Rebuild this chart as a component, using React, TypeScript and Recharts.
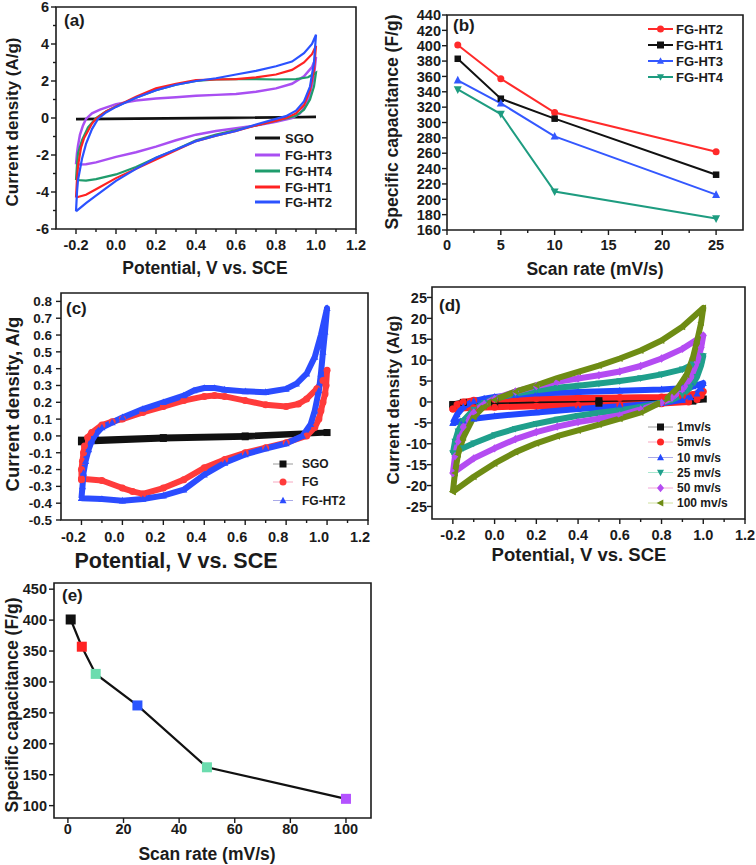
import type { ReactNode } from "react";
import { LineChart, Line, XAxis, YAxis, ReferenceArea } from "recharts";

const FONT = '"Liberation Sans", Arial, Helvetica, sans-serif';
const INK = "#1b1b1b";

type Pt = [number, number];

// ---- (a) CV loops, forward sweep then reverse
const A_SGO: Pt[] = [[-0.2, -0.05], [0.4, 0.0], [1.0, 0.05], [0.4, -0.02], [-0.2, -0.07]];
const A_HT3: Pt[] = [
  [-0.2, -2.5], [-0.195, -1.9], [-0.19, -1.5], [-0.18, -0.9], [-0.165, -0.4], [-0.15, -0.05], [-0.12, 0.25],
  [-0.08, 0.45], [0, 0.75], [0.1, 0.95], [0.2, 1.05], [0.3, 1.12], [0.4, 1.2], [0.5, 1.25], [0.6, 1.3],
  [0.7, 1.42], [0.8, 1.6], [0.88, 1.85], [0.94, 2.25], [0.98, 2.75], [1.0, 3.3],
  [0.99, 2.3], [0.97, 1.3], [0.95, 0.7], [0.92, 0.25], [0.88, 0.0], [0.8, -0.2], [0.7, -0.4], [0.6, -0.55],
  [0.5, -0.7], [0.4, -0.9], [0.3, -1.2], [0.2, -1.55], [0.1, -1.85], [0.0, -2.1], [-0.1, -2.4], [-0.15, -2.5], [-0.2, -2.52],
];
const A_HT4: Pt[] = [
  [-0.2, -3.35], [-0.195, -2.5], [-0.19, -1.9], [-0.17, -1.2], [-0.14, -0.5], [-0.1, 0.0], [-0.05, 0.35],
  [0, 0.62], [0.1, 1.1], [0.2, 1.5], [0.3, 1.8], [0.4, 2.0], [0.5, 2.08], [0.6, 2.1], [0.7, 2.1], [0.8, 2.08],
  [0.9, 2.1], [0.96, 2.2], [1.0, 2.45],
  [0.99, 1.7], [0.97, 1.0], [0.94, 0.45], [0.9, 0.12], [0.86, 0.0], [0.8, -0.15], [0.7, -0.4], [0.6, -0.65],
  [0.5, -0.9], [0.4, -1.2], [0.3, -1.7], [0.2, -2.15], [0.1, -2.65], [0.0, -3.05], [-0.1, -3.3], [-0.15, -3.38], [-0.2, -3.35],
];
const A_HT1: Pt[] = [
  [-0.2, -4.3], [-0.195, -3.3], [-0.19, -2.6], [-0.175, -1.6], [-0.16, -1.1], [-0.12, -0.3], [-0.1, -0.05],
  [-0.05, 0.35], [0, 0.62], [0.1, 1.15], [0.2, 1.6], [0.3, 1.85], [0.4, 2.05], [0.5, 2.08], [0.6, 2.1],
  [0.7, 2.2], [0.8, 2.35], [0.88, 2.6], [0.94, 3.0], [0.98, 3.45], [1.0, 3.9],
  [0.99, 2.6], [0.97, 1.5], [0.94, 0.7], [0.9, 0.25], [0.85, 0.0], [0.8, -0.15], [0.7, -0.4], [0.6, -0.7],
  [0.5, -0.95], [0.4, -1.25], [0.3, -1.75], [0.2, -2.25], [0.1, -2.75], [0.0, -3.25], [-0.1, -3.85], [-0.15, -4.15], [-0.2, -4.3],
];
const A_HT2: Pt[] = [
  [-0.2, -5.05], [-0.195, -4.0], [-0.19, -3.35], [-0.17, -2.2], [-0.15, -1.4], [-0.12, -0.6], [-0.09, -0.05],
  [-0.05, 0.3], [0, 0.6], [0.05, 0.85], [0.1, 1.1], [0.2, 1.5], [0.3, 1.8], [0.4, 2.0], [0.5, 2.15], [0.6, 2.35],
  [0.7, 2.55], [0.8, 2.8], [0.88, 3.05], [0.94, 3.5], [0.98, 4.0], [1.0, 4.5],
  [0.99, 3.0], [0.97, 1.7], [0.94, 0.9], [0.9, 0.4], [0.85, 0.1], [0.8, -0.05], [0.7, -0.35], [0.6, -0.7],
  [0.5, -0.95], [0.4, -1.25], [0.3, -1.7], [0.2, -2.15], [0.1, -2.75], [0.0, -3.4], [-0.1, -4.2], [-0.15, -4.6], [-0.2, -5.05],
];

// ---- (b) capacitance vs scan rate
const B_RATE = [1, 5, 10, 25];
const B_HT2 = [401, 357, 313, 262];
const B_HT1 = [383, 331, 305, 232];
const B_HT3 = [355, 325, 282, 206];
const B_HT4 = [343, 311, 210, 175];

// ---- (c) CV of SGO / FG / FG-HT2
const C_SGO: Pt[] = [[-0.2, -0.025], [0.2, -0.01], [0.6, 0.0], [1.0, 0.02], [0.6, -0.005], [0.2, -0.015], [-0.2, -0.035]];
const C_FG: Pt[] = [
  [-0.2, -0.26], [-0.2, -0.2], [-0.195, -0.15], [-0.19, -0.1], [-0.185, -0.06], [-0.17, -0.01], [-0.15, 0.02],
  [-0.1, 0.065], [-0.05, 0.085], [0.0, 0.1], [0.1, 0.14], [0.2, 0.175], [0.3, 0.21], [0.4, 0.235], [0.45, 0.24],
  [0.5, 0.235], [0.6, 0.21], [0.7, 0.185], [0.8, 0.175], [0.86, 0.19], [0.9, 0.22], [0.95, 0.28], [0.98, 0.33], [1.0, 0.39],
  [0.995, 0.3], [0.99, 0.25], [0.98, 0.2], [0.97, 0.15], [0.96, 0.1], [0.94, 0.05], [0.9, 0.0], [0.8, -0.04],
  [0.7, -0.07], [0.6, -0.1], [0.5, -0.14], [0.4, -0.19], [0.3, -0.26], [0.2, -0.31], [0.1, -0.345], [0.05, -0.33],
  [0.0, -0.31], [-0.1, -0.265], [-0.2, -0.255],
];
const C_HT2: Pt[] = [
  [-0.2, -0.37], [-0.195, -0.3], [-0.19, -0.22], [-0.18, -0.15], [-0.165, -0.08], [-0.15, -0.03], [-0.13, 0.01],
  [-0.1, 0.05], [-0.05, 0.08], [0.0, 0.11], [0.1, 0.16], [0.2, 0.2], [0.3, 0.24], [0.35, 0.27], [0.4, 0.285],
  [0.45, 0.285], [0.5, 0.275], [0.6, 0.265], [0.7, 0.26], [0.8, 0.28], [0.85, 0.31], [0.9, 0.37], [0.94, 0.47],
  [0.97, 0.6], [1.0, 0.76],
  [0.99, 0.62], [0.98, 0.5], [0.97, 0.37], [0.96, 0.27], [0.94, 0.15], [0.92, 0.07], [0.88, 0.0], [0.8, -0.045],
  [0.7, -0.075], [0.6, -0.11], [0.5, -0.16], [0.4, -0.23], [0.3, -0.32], [0.2, -0.355], [0.1, -0.375], [0.0, -0.385],
  [-0.1, -0.375], [-0.2, -0.37],
];

// ---- (d) CV of FG-HT2 at several scan rates
const D_1: Pt[] = [[-0.2, -0.6], [-0.15, -0.1], [0, 0.1], [0.5, 0.3], [1.0, 0.7], [0.95, 0.2], [0.5, -0.3], [0, -0.5], [-0.2, -0.7]];
const D_5: Pt[] = [
  [-0.2, -1.7], [-0.18, -0.6], [-0.15, 0.0], [-0.1, 0.4], [0, 0.6], [0.2, 0.8], [0.4, 0.95], [0.6, 1.05], [0.8, 1.2],
  [0.9, 1.4], [0.95, 1.8], [1.0, 2.5],
  [0.99, 1.5], [0.97, 0.6], [0.93, 0.0], [0.8, -0.4], [0.6, -0.65], [0.4, -0.85], [0.2, -1.05], [0.0, -1.25], [-0.1, -1.4], [-0.2, -1.7],
];
const D_10: Pt[] = [
  [-0.2, -5], [-0.18, -3], [-0.15, -1.2], [-0.1, 0.2], [-0.05, 0.8], [0, 1.2], [0.1, 1.7], [0.2, 2.0], [0.4, 2.4],
  [0.6, 2.7], [0.8, 3.0], [0.9, 3.3], [0.95, 3.7], [1.0, 4.5],
  [0.99, 3.2], [0.97, 2], [0.94, 1.1], [0.9, 0.5], [0.8, -0.3], [0.6, -1.0], [0.4, -1.7], [0.2, -2.5], [0.0, -3.4],
  [-0.1, -4], [-0.15, -4.5], [-0.2, -5],
];
const D_25: Pt[] = [
  [-0.2, -12.3], [-0.19, -9.5], [-0.175, -7], [-0.15, -4.5], [-0.1, -1.8], [-0.05, -0.2], [0, 0.8], [0.1, 2.0],
  [0.2, 2.8], [0.3, 3.4], [0.4, 3.9], [0.5, 4.4], [0.6, 5.0], [0.7, 5.7], [0.8, 6.6], [0.9, 7.8], [0.95, 9], [1.0, 11],
  [0.99, 8.8], [0.97, 6], [0.94, 3.5], [0.9, 1.7], [0.85, 0.5], [0.8, -0.2], [0.7, -1.2], [0.6, -2.0], [0.5, -2.6],
  [0.4, -3.3], [0.3, -4.2], [0.2, -5.2], [0.1, -6.4], [0.0, -7.9], [-0.1, -9.9], [-0.15, -11], [-0.2, -12.3],
];
const D_50: Pt[] = [
  [-0.2, -17], [-0.19, -13], [-0.175, -9.5], [-0.15, -6], [-0.1, -2.5], [-0.05, -0.5], [0, 0.8], [0.1, 2.5],
  [0.2, 3.8], [0.3, 4.8], [0.4, 5.6], [0.5, 6.4], [0.6, 7.3], [0.7, 8.6], [0.8, 10.4], [0.9, 12.7], [1.0, 15.9],
  [0.99, 13], [0.97, 9.5], [0.94, 5.8], [0.9, 3], [0.85, 1.0], [0.8, -0.2], [0.7, -1.8], [0.6, -3.2], [0.5, -4],
  [0.4, -4.8], [0.3, -5.9], [0.2, -7.2], [0.1, -8.9], [0.0, -11.1], [-0.1, -13.5], [-0.2, -17],
];
const D_100: Pt[] = [
  [-0.2, -21.5], [-0.19, -17], [-0.175, -12.5], [-0.15, -8.5], [-0.1, -3.6], [-0.05, -1.0], [0, 0.5], [0.1, 2.5],
  [0.2, 4.0], [0.3, 5.7], [0.4, 7.2], [0.5, 8.7], [0.6, 10.4], [0.7, 12.3], [0.8, 14.7], [0.9, 18], [1.0, 22.5],
  [0.99, 19], [0.97, 14.5], [0.95, 10.5], [0.92, 6.5], [0.88, 3.5], [0.83, 1.0], [0.78, -0.5], [0.7, -2.5],
  [0.6, -4.0], [0.5, -5.4], [0.4, -6.8], [0.3, -8.2], [0.2, -9.9], [0.1, -12], [0.0, -14.7], [-0.1, -17.9], [-0.2, -21.5],
];

// ---- (e) FG-HT2 capacitance vs scan rate
const E_RATE = [1, 5, 10, 25, 50, 100];
const E_CAP = [401, 357, 313, 262, 162, 111];
const E_COLORS = ["#111111", "#ff2222", "#6bdcae", "#2b55ff", "#6bdcae", "#b452ff"];

// ---- ticks
const CV_X_MAJOR = [-0.2, 0, 0.2, 0.4, 0.6, 0.8, 1.0, 1.2];
const CV_X_MINOR = [-0.1, 0.1, 0.3, 0.5, 0.7, 0.9, 1.1];
const A_Y_MAJOR = [-6, -4, -2, 0, 2, 4, 6];
const A_Y_MINOR = [-5, -3, -1, 1, 3, 5];
const B_X_MAJOR = [0, 5, 10, 15, 20, 25];
const B_X_MINOR = [2.5, 7.5, 12.5, 17.5, 22.5];
const B_Y_MAJOR = [160, 180, 200, 220, 240, 260, 280, 300, 320, 340, 360, 380, 400, 420, 440];
const C_Y_MAJOR = [-0.5, -0.4, -0.3, -0.2, -0.1, 0, 0.1, 0.2, 0.3, 0.4, 0.5, 0.6, 0.7, 0.8];
const D_Y_MAJOR = [-25, -20, -15, -10, -5, 0, 5, 10, 15, 20, 25];
const E_X_MAJOR = [0, 20, 40, 60, 80, 100];
const E_Y_MAJOR = [100, 150, 200, 250, 300, 350, 400, 450];

const pts = (a: Pt[]) => a.map(([x, y]) => ({ x, y }));
const pairs = (xs: number[], ys: number[]) => xs.map((x, i) => ({ x, y: ys[i] }));
const f1 = (v: number) => v.toFixed(1);
const f0 = (v: number) => String(Math.round(v));

function Marker({ shape, cx, cy, size, fill }: { shape: string; cx: number; cy: number; size: number; fill: string }) {
  const r = size / 2;
  if (shape === "square") return <rect x={cx - r} y={cy - r} width={size} height={size} fill={fill} />;
  if (shape === "circle") return <circle cx={cx} cy={cy} r={r} fill={fill} />;
  if (shape === "up") return <polygon points={`${cx},${cy - r * 1.1} ${cx + r},${cy + r * 0.8} ${cx - r},${cy + r * 0.8}`} fill={fill} />;
  if (shape === "down") return <polygon points={`${cx},${cy + r * 1.1} ${cx + r},${cy - r * 0.8} ${cx - r},${cy - r * 0.8}`} fill={fill} />;
  if (shape === "diamond") return <polygon points={`${cx},${cy - r * 1.2} ${cx + r},${cy} ${cx},${cy + r * 1.2} ${cx - r},${cy}`} fill={fill} />;
  return <polygon points={`${cx - r * 1.1},${cy} ${cx + r * 0.8},${cy - r} ${cx + r * 0.8},${cy + r}`} fill={fill} />;
}

const dotOf = (shape: string, size: number, fill: string) => (p: any) => (
  <Marker key={`d${p.index}`} shape={shape} cx={p.cx} cy={p.cy} size={size} fill={fill} />
);

const isIn = (arr: number[], v: number) => arr.some((m) => Math.abs(m - v) < 1e-9);

type PanelProps = {
  px: number; py: number; pw: number; ph: number;
  xDomain: [number, number]; yDomain: [number, number];
  xMajor: number[]; xMinor?: number[]; yMajor: number[]; yMinor?: number[];
  xFmt: (v: number) => string; yFmt: (v: number) => string;
  xdx?: number; xdy: number; ygap: number; xfs?: number; yfs?: number;
  children: ReactNode;
};

function Panel(props: PanelProps) {
  const { px, py, pw, ph, xDomain, yDomain, xMajor, yMajor, xFmt, yFmt, xdy, ygap } = props;
  const xMinor = props.xMinor ?? [];
  const yMinor = props.yMinor ?? [];
  const xdx = props.xdx ?? 0;
  const xfs = props.xfs ?? 14.5;
  const yfs = props.yfs ?? 14.5;
  const ML = 50;
  const MT = 10;

  const xTick = (p: any) => {
    const v = p.payload.value;
    const major = isIn(xMajor, v);
    return (
      <g>
        <line x1={p.x} x2={p.x} y1={p.y} y2={p.y + (major ? 5 : 3)} stroke={INK} strokeWidth={1.4} />
        {major && (
          <text x={p.x + xdx} y={p.y + xdy} textAnchor="middle" fontFamily={FONT} fontWeight="bold" fontSize={xfs} fill={INK}>
            {xFmt(v)}
          </text>
        )}
      </g>
    );
  };
  const yTick = (p: any) => {
    const v = p.payload.value;
    const major = isIn(yMajor, v);
    return (
      <g>
        <line x1={p.x} x2={p.x - (major ? 5 : 3)} y1={p.y} y2={p.y} stroke={INK} strokeWidth={1.4} />
        {major && (
          <text x={p.x - ygap} y={p.y} dy="0.36em" textAnchor="end" fontFamily={FONT} fontWeight="bold" fontSize={yfs} fill={INK}>
            {yFmt(v)}
          </text>
        )}
      </g>
    );
  };

  return (
    <div style={{ position: "absolute", left: px - ML, top: py - MT }}>
      <LineChart width={pw + ML + 10} height={ph + MT + 30} margin={{ top: MT, right: 10, bottom: 0, left: 0 }}>
        <XAxis
          dataKey="x" type="number" domain={xDomain} ticks={[...xMajor, ...xMinor]} interval={0}
          tickSize={0} tickMargin={0} axisLine={false} tickLine={false} height={30} allowDataOverflow tick={xTick}
        />
        <YAxis
          dataKey="y" type="number" domain={yDomain} ticks={[...yMajor, ...yMinor]} interval={0}
          tickSize={0} tickMargin={0} axisLine={false} tickLine={false} width={ML} allowDataOverflow tick={yTick}
        />
        <ReferenceArea
          x1={xDomain[0]} x2={xDomain[1]} y1={yDomain[0]} y2={yDomain[1]}
          fill="none" fillOpacity={0} stroke={INK} strokeWidth={1.6} ifOverflow="visible"
        />
        {props.children}
      </LineChart>
    </div>
  );
}

type LegendRow = { label: string; color: string; shape?: string; pale?: string; width?: number };

function LegendBlock({ x1, x2, tx, ys, rows, fs, msize }: { x1: number; x2: number; tx: number; ys: number[]; rows: LegendRow[]; fs: number; msize: number }) {
  return (
    <g>
      {rows.map((r, i) => (
        <g key={r.label}>
          <line x1={x1} x2={x2} y1={ys[i]} y2={ys[i]} stroke={r.pale ?? r.color} strokeWidth={r.width ?? 2.5} />
          {r.shape && <Marker shape={r.shape} cx={(x1 + x2) / 2} cy={ys[i]} size={msize} fill={r.color} />}
          <text x={tx} y={ys[i]} dy="0.36em" fontFamily={FONT} fontWeight="bold" fontSize={fs} fill={INK}>
            {r.label}
          </text>
        </g>
      ))}
    </g>
  );
}

function VTitle({ x, y, fs, children }: { x: number; y: number; fs: number; children: string }) {
  return (
    <text x={x} y={y} transform={`rotate(-90 ${x} ${y})`} textAnchor="middle" dominantBaseline="central"
      fontFamily={FONT} fontWeight="bold" fontSize={fs} fill={INK}>
      {children}
    </text>
  );
}

function HText({ x, y, fs, anchor = "middle", children }: { x: number; y: number; fs: number; anchor?: string; children: string }) {
  return (
    <text x={x} y={y} textAnchor={anchor as any} fontFamily={FONT} fontWeight="bold" fontSize={fs} fill={INK}>
      {children}
    </text>
  );
}

const cvLine = (data: Pt[], color: string, width: number) => (
  <Line data={pts(data)} dataKey="y" type="linear" stroke={color} strokeWidth={width} dot={false} activeDot={false} isAnimationActive={false} />
);

const bandLine = (data: Pt[], color: string, shape: string) => (
  <Line data={pts(data)} dataKey="y" type="linear" stroke={color} strokeWidth={6} strokeLinejoin="round"
    dot={dotOf(shape, 7, color)} activeDot={false} isAnimationActive={false} />
);

export default function App() {
  const A = { SGO: "#111111", HT3: "#a94ff2", HT4: "#1f9c6c", HT1: "#ff2222", HT2: "#2b52ff" };
  const B = { HT2: "#ff2a2a", HT1: "#111111", HT3: "#3458ff", HT4: "#1e9c80" };
  const C = { SGO: "#111111", FG: "#ff3b3b", HT2: "#2b4cff" };
  const D = ["#111111", "#ff2525", "#2248ff", "#1f9f8c", "#b44cf2", "#6e8c14"];
  const DP = ["#9a9a9a", "#f7a8c0", "#a9a9e8", "#a8e8d0", "#f2a8d8", "#cfe0a0"];

  return (
    <div style={{ position: "absolute", left: 0, top: 0, width: 756, height: 865, background: "#fff" }}>
      {/* (a) */}
      <Panel px={56} py={7} pw={300} ph={222} xDomain={[-0.3, 1.2]} yDomain={[-6, 6]}
        xMajor={CV_X_MAJOR} xMinor={CV_X_MINOR} yMajor={A_Y_MAJOR} yMinor={A_Y_MINOR}
        xFmt={f1} yFmt={f0} xdy={21} ygap={7}>
        {cvLine(A_SGO, A.SGO, 2.5)}
        {cvLine(A_HT3, A.HT3, 2.5)}
        {cvLine(A_HT4, A.HT4, 2.2)}
        {cvLine(A_HT1, A.HT1, 2.2)}
        {cvLine(A_HT2, A.HT2, 2.2)}
      </Panel>

      {/* (b) */}
      <Panel px={447} py={15} pw={296} ph={215} xDomain={[0, 27.5]} yDomain={[160, 440]}
        xMajor={B_X_MAJOR} xMinor={B_X_MINOR} yMajor={B_Y_MAJOR}
        xFmt={f0} yFmt={f0} xdy={20} ygap={6}>
        <Line data={pairs(B_RATE, B_HT2)} dataKey="y" stroke={B.HT2} strokeWidth={2} dot={dotOf("circle", 7, B.HT2)} activeDot={false} isAnimationActive={false} />
        <Line data={pairs(B_RATE, B_HT1)} dataKey="y" stroke={B.HT1} strokeWidth={2} dot={dotOf("square", 6.5, B.HT1)} activeDot={false} isAnimationActive={false} />
        <Line data={pairs(B_RATE, B_HT3)} dataKey="y" stroke={B.HT3} strokeWidth={2} dot={dotOf("up", 8, B.HT3)} activeDot={false} isAnimationActive={false} />
        <Line data={pairs(B_RATE, B_HT4)} dataKey="y" stroke={B.HT4} strokeWidth={2} dot={dotOf("down", 8, B.HT4)} activeDot={false} isAnimationActive={false} />
      </Panel>

      {/* (c) */}
      <Panel px={61} py={293} pw={307} ph={227} xDomain={[-0.3, 1.2]} yDomain={[-0.5, 0.85]}
        xMajor={CV_X_MAJOR} xMinor={CV_X_MINOR} yMajor={C_Y_MAJOR}
        xFmt={f1} yFmt={f1} xdx={-8} xdy={22} ygap={9} yfs={13.5}>
        {bandLine(C_SGO, C.SGO, "square")}
        {bandLine(C_FG, C.FG, "circle")}
        {bandLine(C_HT2, C.HT2, "up")}
      </Panel>

      {/* (d) */}
      <Panel px={432} py={287} pw={313} ph={232} xDomain={[-0.3, 1.2]} yDomain={[-28, 27.5]}
        xMajor={CV_X_MAJOR} xMinor={CV_X_MINOR} yMajor={D_Y_MAJOR}
        xFmt={f1} yFmt={f0} xdy={21} ygap={5}>
        {bandLine(D_1, D[0], "square")}
        {bandLine(D_5, D[1], "circle")}
        {bandLine(D_10, D[2], "up")}
        {bandLine(D_25, D[3], "down")}
        {bandLine(D_50, D[4], "diamond")}
        {bandLine(D_100, D[5], "left")}
      </Panel>

      {/* (e) */}
      <Panel px={54} py={583} pw={317} ph={235} xDomain={[-5, 109]} yDomain={[80, 460]}
        xMajor={E_X_MAJOR} yMajor={E_Y_MAJOR}
        xFmt={f0} yFmt={f0} xdy={16} ygap={7}>
        <Line data={pairs(E_RATE, E_CAP)} dataKey="y" stroke="#111" strokeWidth={2.2} activeDot={false} isAnimationActive={false}
          dot={(p: any) => <Marker key={`e${p.index}`} shape="square" cx={p.cx} cy={p.cy} size={10} fill={E_COLORS[p.index]} />} />
      </Panel>

      <svg width={756} height={865} style={{ position: "absolute", left: 0, top: 0, pointerEvents: "none" }}>
        {/* panel letters */}
        <HText x={64} y={26} fs={17} anchor="start">(a)</HText>
        <HText x={453} y={31} fs={17} anchor="start">(b)</HText>
        <HText x={66} y={314} fs={17} anchor="start">(c)</HText>
        <HText x={439} y={311} fs={17} anchor="start">(d)</HText>
        <HText x={62} y={601} fs={17} anchor="start">(e)</HText>

        {/* axis titles */}
        <HText x={205} y={274} fs={17.5}>Potential, V vs. SCE</HText>
        <VTitle x={12} y={122} fs={17}>Current density (A/g)</VTitle>
        <HText x={595} y={275} fs={17.5}>Scan rate (mV/s)</HText>
        <VTitle x={392} y={122} fs={17.5}>Specific capacitance (F/g)</VTitle>
        <HText x={176} y={568} fs={21.5}>Potential, V vs. SCE</HText>
        <VTitle x={12} y={404} fs={18.5}>Current density, A/g</VTitle>
        <HText x={579} y={561} fs={18.5}>Potential, V vs. SCE</HText>
        <VTitle x={393} y={400} fs={17}>Current density (A/g)</VTitle>
        <HText x={207} y={860} fs={17.5}>Scan rate (mV/s)</HText>
        <VTitle x={12} y={705} fs={17.5}>Specific capacitance (F/g)</VTitle>

        {/* legends */}
        <LegendBlock x1={255} x2={280} tx={285} ys={[138, 155, 171, 187, 202]} fs={13} msize={0}
          rows={[
            { label: "SGO", color: A.SGO, width: 3 },
            { label: "FG-HT3", color: A.HT3, width: 3 },
            { label: "FG-HT4", color: A.HT4, width: 3 },
            { label: "FG-HT1", color: A.HT1, width: 3 },
            { label: "FG-HT2", color: A.HT2, width: 3 },
          ]} />
        <LegendBlock x1={648} x2={673} tx={676} ys={[29, 45, 61, 77]} fs={13} msize={7}
          rows={[
            { label: "FG-HT2", color: B.HT2, shape: "circle", width: 2 },
            { label: "FG-HT1", color: B.HT1, shape: "square", width: 2 },
            { label: "FG-HT3", color: B.HT3, shape: "up", width: 2 },
            { label: "FG-HT4", color: B.HT4, shape: "down", width: 2 },
          ]} />
        <LegendBlock x1={273} x2={293} tx={302} ys={[464, 482, 500.5]} fs={12} msize={7}
          rows={[
            { label: "SGO", color: C.SGO, shape: "square", pale: "#9a9a9a", width: 1 },
            { label: "FG", color: C.FG, shape: "circle", pale: "#f7a8c0", width: 1 },
            { label: "FG-HT2", color: C.HT2, shape: "up", pale: "#a9a9e8", width: 1 },
          ]} />
        <LegendBlock x1={648} x2={673} tx={677} ys={[427, 442, 457.5, 472.5, 488, 503]} fs={12} msize={7}
          rows={[
            { label: "1mv/s", color: D[0], shape: "square", pale: DP[0], width: 1 },
            { label: "5mv/s", color: D[1], shape: "circle", pale: DP[1], width: 1 },
            { label: "10 mv/s", color: D[2], shape: "up", pale: DP[2], width: 1 },
            { label: "25 mv/s", color: D[3], shape: "down", pale: DP[3], width: 1 },
            { label: "50 mv/s", color: D[4], shape: "diamond", pale: DP[4], width: 1 },
            { label: "100 mv/s", color: D[5], shape: "left", pale: DP[5], width: 1 },
          ]} />
      </svg>
    </div>
  );
}
